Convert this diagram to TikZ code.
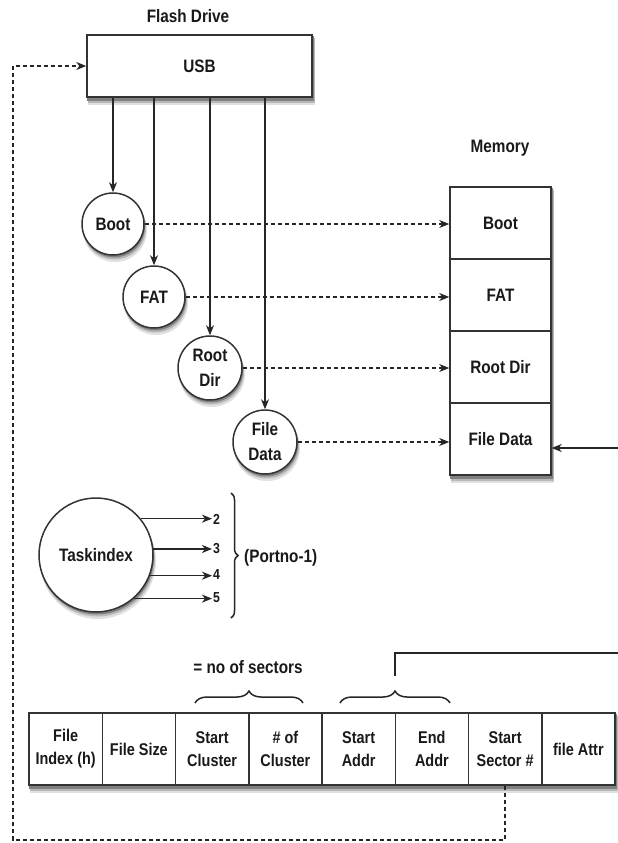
\documentclass[tikz,border=0pt]{standalone}
\usepackage{fontspec}
\setmainfont[FakeStretch=0.85]{Liberation Sans}
\usetikzlibrary{arrows.meta,decorations.pathreplacing,calc,backgrounds}
\begin{document}
\begin{tikzpicture}[x=1pt,y=-1pt,
  every node/.style={font=\fontsize{18}{25}\selectfont\bfseries, text=black!90},
  box/.style={draw=black!80, line width=1.5pt, fill=white, inner sep=0pt, align=center},
  disc/.style={circle, draw=black!80, line width=1.5pt, fill=white, inner sep=0pt, minimum size=62pt, align=center},
  arr/.style={draw=black!85, line width=1.3pt, -{Stealth[length=10pt,width=8pt,inset=3pt]}},
  dasharr/.style={arr, dash pattern=on 4pt off 3pt},
  plain/.style={draw=black!85, line width=1.3pt},
  cellT/.style={box, minimum width=73.25pt, minimum height=72pt, font=\fontsize{17}{23}\selectfont\bfseries},
  memcell/.style={box, minimum width=101pt, minimum height=72pt},
  brc/.style={draw=black!85, line width=1.5pt, decorate, decoration={brace, amplitude=12pt}},
  sbrc/.style={draw=black!85, line width=1.5pt, decorate, decoration={brace, amplitude=7pt}},
  digit/.style={font=\fontsize{14.5}{15}\selectfont\bfseries, anchor=west, inner sep=1pt},
  sh1/.style={fill=black!12},
  sh2/.style={fill=black!28},
  sh3/.style={fill=black!50},
]
\useasboundingbox (0,0) rectangle (618,843);

% Flash drive
\node (fdt) at (188,16) {Flash Drive};
\node[box, minimum width=225pt, minimum height=62pt] (usb) at (199.5,66) {USB};

\node[disc] (boot) at (113,224) {Boot};
\node[disc] (fat) at (154,297) {FAT};
\node[disc, minimum size=64pt] (root) at (210,368) {Root\\Dir};
\node[disc, minimum size=64pt] (fdata) at (265,442) {File\\Data};

\draw[arr] (usb.south -| boot.north) -- (boot.north);
\draw[arr] (usb.south -| fat.north) -- (fat.north);
\draw[arr] (usb.south -| root.north) -- (root.north);
\draw[arr] (usb.south -| fdata.north) -- (fdata.north);

% Memory
\node (memt) at (500,148) {Memory};
\node[box, minimum width=101pt, minimum height=288pt] (membox) at (500.5,331) {};
\node[memcell] (mboot) at (500.5,223) {Boot};
\node[memcell] (mfat) at (500.5,295) {FAT};
\node[memcell] (mroot) at (500.5,367) {Root Dir};
\node[memcell] (mfile) at (500.5,439) {File Data};

\draw[dasharr] (boot.east) -- (boot.east -| mboot.west);
\draw[dasharr] (fat.east) -- (fat.east -| mfat.west);
\draw[dasharr] (root.east) -- (root.east -| mroot.west);
\draw[dasharr] (fdata.east) -- (fdata.east -| mfile.west);

\coordinate (rin) at (618,448);
\draw[arr] (rin) -- (rin -| mfile.east);

% Taskindex
\node[disc, minimum size=114pt] (task) at (96,555) {Taskindex};
\node[digit] (n2) at (212,519) {2};
\node[digit] (n3) at (212,549) {3};
\node[digit] (n4) at (212,575) {4};
\node[digit] (n5) at (212,598) {5};
\draw[arr, line width=1.6pt] (task.39) -- (task.39 -| n2.west);
\draw[arr, line width=1.6pt] (task.6) -- (task.6 -| n3.west);
\draw[arr, line width=1.6pt] (task.-21) -- (task.-21 -| n4.west);
\draw[arr, line width=1.6pt] (task.-49) -- (task.-49 -| n5.west);
\coordinate (bt1) at (231,493);
\coordinate (bt2) at (231,618);
\draw[sbrc] (bt1) -- (bt2);
\node[anchor=west, inner sep=1pt] (portno) at (243,558) {(Portno-1)};

% Table
\node[box, minimum width=586pt, minimum height=72pt] (tbl) at (322,749) {};
\node[cellT] (c1) at (65.625,749) {File\\Index (h)};
\node[cellT] (c2) at (138.875,749) {File Size};
\node[cellT] (c3) at (212.125,749) {Start\\Cluster};
\node[cellT] (c4) at (285.375,749) {\# of\\Cluster};
\node[cellT] (c5) at (358.625,749) {Start\\Addr};
\node[cellT] (c6) at (431.875,749) {End\\Addr};
\node[cellT] (c7) at (505.125,749) {Start\\Sector \#};
\node[cellT] (c8) at (578.375,749) {file Attr};

\coordinate (b1a) at (195,703);
\coordinate (b1b) at (303,703);
\draw[brc] (b1a) -- (b1b);
\node (nos) at (248,667) {= no of sectors};

\coordinate (b2a) at (340,703);
\coordinate (b2b) at (450,703);
\draw[brc] (b2a) -- (b2b);
\coordinate (b2t) at (395,676);
\coordinate (tr) at (618,653);
\draw[plain] (b2t) |- (tr);

% dashed loop back to USB
\coordinate (lb) at (13,840);
\draw[dasharr] (c7.south) |- (lb) |- (usb.west);

% soft drop shadows
\begin{scope}[on background layer]
  \foreach \n in {usb,membox,tbl} {
    \fill[sh1] ($(\n.north west)+(2,6)$) rectangle ($(\n.south east)+(2.5,7)$);
    \fill[sh2] ($(\n.north west)+(1.5,4)$) rectangle ($(\n.south east)+(1.8,5)$);
    \fill[sh3] ($(\n.north west)+(1,2)$) rectangle ($(\n.south east)+(1,3)$);
  }
  \foreach \n/\r in {boot/31,fat/31,root/32,fdata/32,task/57} {
    \fill[sh1] ($(\n.center)+(2,6)$) circle[radius=\r pt+1pt];
    \fill[sh2] ($(\n.center)+(1.5,4)$) circle[radius=\r pt+0.5pt];
    \fill[sh3] ($(\n.center)+(1,2.5)$) circle[radius=\r pt];
  }
\end{scope}
\end{tikzpicture}
\end{document}
